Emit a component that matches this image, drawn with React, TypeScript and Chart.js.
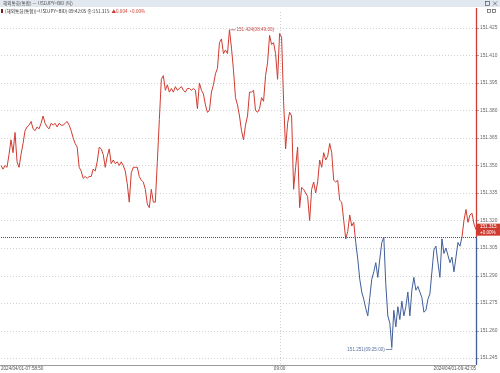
import React, { useEffect, useRef } from "react";
import { Chart, registerables } from "chart.js";

Chart.register(...registerables);

// ---- data ----
const prices: number[] = [
  151.350, 151.348, 151.350, 151.349, 151.356, 151.364, 151.357, 151.368, 151.352, 151.349,
  151.356, 151.362, 151.369, 151.371, 151.372, 151.374, 151.370, 151.369, 151.371, 151.370,
  151.373, 151.377, 151.373, 151.371, 151.370, 151.373, 151.372, 151.373, 151.371, 151.373,
  151.372, 151.372, 151.373, 151.374, 151.372, 151.369, 151.365, 151.362, 151.360, 151.349,
  151.347, 151.343, 151.344, 151.343, 151.344, 151.344, 151.348, 151.347, 151.352, 151.360,
  151.359, 151.356, 151.349, 151.355, 151.359, 151.351, 151.353, 151.351, 151.352, 151.350,
  151.352, 151.350, 151.347, 151.340, 151.330, 151.346, 151.349, 151.349, 151.349, 151.344,
  151.342, 151.341, 151.337, 151.329, 151.327, 151.337, 151.330, 151.330, 151.352, 151.375,
  151.397, 151.399, 151.391, 151.394, 151.390, 151.392, 151.390, 151.393, 151.391, 151.392,
  151.393, 151.391, 151.390, 151.392, 151.392, 151.391, 151.392, 151.391, 151.381, 151.395,
  151.391, 151.389, 151.383, 151.379, 151.380, 151.390, 151.394, 151.400, 151.403, 151.417,
  151.419, 151.411, 151.413, 151.411, 151.424, 151.414, 151.402, 151.387, 151.383, 151.377,
  151.369, 151.364, 151.372, 151.377, 151.390, 151.390, 151.391, 151.380, 151.379, 151.381,
  151.387, 151.385, 151.399, 151.406, 151.421, 151.416, 151.417, 151.411, 151.397, 151.422,
  151.420, 151.385, 151.359, 151.373, 151.379, 151.377, 151.337, 151.349, 151.360, 151.327,
  151.338, 151.337, 151.335, 151.333, 151.320, 151.337, 151.341, 151.335, 151.341, 151.353,
  151.349, 151.357, 151.353, 151.355, 151.362, 151.357, 151.342, 151.341, 151.342, 151.331,
  151.330, 151.320, 151.310, 151.314, 151.323, 151.317, 151.319, 151.308, 151.299, 151.288,
  151.281, 151.277, 151.272, 151.268, 151.278, 151.288, 151.292, 151.297, 151.289, 151.299,
  151.308, 151.311, 151.285, 151.268, 151.264, 151.251, 151.271, 151.262, 151.273, 151.266,
  151.276, 151.268, 151.273, 151.281, 151.268, 151.282, 151.289, 151.282, 151.284, 151.281,
  151.278, 151.270, 151.271, 151.277, 151.280, 151.292, 151.304, 151.306, 151.297, 151.289,
  151.310, 151.302, 151.305, 151.301, 151.297, 151.300, 151.292, 151.300, 151.308, 151.306,
  151.311, 151.320, 151.326, 151.319, 151.323, 151.324, 151.318, 151.315,
];
const tickSeq: number[] = prices.map((_, i) => i);

const xTickIndex: number[] = [0, 139, 237];
const xTickText: string[] = ["2024/04/01-07:58:50", "09:00", "2024/04/01-09:42:05"];

const yTicks: number[] = [
  151.245, 151.26, 151.275, 151.29, 151.305, 151.32, 151.335, 151.35, 151.365, 151.38, 151.395, 151.41, 151.425,
];
const yMin = 151.2412;
const yMax = 151.4337;

const prevClose = 151.311;
const lastPrice = 151.315;
const change = "▲0.004";
const changePct = "+0.00%";
const maxTime = "08:49:00";
const minTime = "09:25:00";
const title = "해외통화(통합) — USDJPY=BID (틱)";
const infoLine = "(해외통화(통합))=USDJPY=BID) 09:42:05 종:151.315";

const RED = "#cf3b30";
const BLUE = "#3f5d98";
const FONT = "'Liberation Sans', Arial, sans-serif";
const KFONT = "'Noto Sans CJK KR', 'Liberation Sans', sans-serif";

const decor = {
  id: "decor",
  beforeDraw(chart: any) {
    const { ctx, width } = chart;
    ctx.save();
    ctx.fillStyle = "#ffffff";
    ctx.fillRect(0, 0, width, chart.height);
    // title bar
    ctx.fillStyle = "#e2e8ef";
    ctx.fillRect(0, 0, width, 7);
    ctx.fillStyle = "#4a4a4a";
    ctx.font = `4.6px ${KFONT}`;
    ctx.textBaseline = "middle";
    ctx.textAlign = "left";
    ctx.fillText(title, 3, 3.6);
    // window icons
    ctx.strokeStyle = "#555";
    ctx.lineWidth = 0.7;
    ctx.strokeRect(485.5, 1.5, 4, 4);
    ctx.beginPath();
    ctx.moveTo(493, 1.5); ctx.lineTo(497, 5.5);
    ctx.moveTo(497, 1.5); ctx.lineTo(493, 5.5);
    ctx.stroke();
    ctx.strokeRect(487.5, 9.5, 3, 3);
    ctx.strokeRect(492.5, 9.5, 3, 3);
    // info line
    ctx.fillStyle = "#7a1f1a";
    ctx.fillRect(1, 9, 2, 4);
    ctx.fillStyle = "#333";
    ctx.font = `4.6px ${KFONT}`;
    ctx.fillText(infoLine, 5, 11);
    const w = ctx.measureText(infoLine).width;
    ctx.fillStyle = RED;
    ctx.fillText(`${change}  ${changePct}`, 5 + w + 2, 11);
    ctx.restore();
  },
  beforeDatasetsDraw(chart: any) {
    const { ctx, chartArea: ca, scales } = chart;
    const ys = scales.y;
    const xs = scales.x;
    ctx.save();
    ctx.lineWidth = 1;
    ctx.strokeStyle = "#d2d2d2";
    ctx.setLineDash([1, 2]);
    for (const t of yTicks) {
      const y = Math.round(ys.getPixelForValue(t)) + 0.5;
      ctx.beginPath();
      ctx.moveTo(ca.left, y);
      ctx.lineTo(ca.right, y);
      ctx.stroke();
    }
    const vx = Math.round(xs.getPixelForValue(xTickIndex[1])) + 0.5;
    ctx.beginPath();
    ctx.moveTo(vx, ca.top);
    ctx.lineTo(vx, ca.bottom);
    ctx.stroke();
    // bottom axis line
    ctx.setLineDash([]);
    ctx.strokeStyle = "#9a9a9a";
    ctx.beginPath();
    ctx.moveTo(0, Math.round(ca.bottom) + 0.5);
    ctx.lineTo(ca.right, Math.round(ca.bottom) + 0.5);
    ctx.stroke();
    // baseline (prev close)
    const by = Math.round(ys.getPixelForValue(prevClose)) + 0.5;
    ctx.strokeStyle = "#505050";
    ctx.setLineDash([1, 1]);
    ctx.beginPath();
    ctx.moveTo(ca.left, by);
    ctx.lineTo(ca.right, by);
    ctx.stroke();
    ctx.restore();
  },
  afterDatasetsDraw(chart: any) {
    const { ctx, chartArea: ca, scales } = chart;
    const ys = scales.y;
    const xs = scales.x;
    ctx.save();
    // right axis line, colored by baseline
    const by = ys.getPixelForValue(prevClose);
    const ax = Math.round(ca.right) + 0.5;
    ctx.lineWidth = 1.3;
    ctx.strokeStyle = RED;
    ctx.beginPath();
    ctx.moveTo(ax, 8);
    ctx.lineTo(ax, by);
    ctx.stroke();
    ctx.strokeStyle = BLUE;
    ctx.beginPath();
    ctx.moveTo(ax, by);
    ctx.lineTo(ax, ca.bottom);
    ctx.stroke();
    // tick marks
    ctx.lineWidth = 0.8;
    ctx.strokeStyle = "#888";
    for (const t of yTicks) {
      const y = Math.round(ys.getPixelForValue(t)) + 0.5;
      ctx.beginPath();
      ctx.moveTo(ca.right + 1, y);
      ctx.lineTo(ca.right + 3, y);
      ctx.stroke();
    }
    // max / min annotations
    let maxI = 0, minI = 0;
    prices.forEach((v, i) => {
      if (v > prices[maxI]) maxI = i;
      if (v < prices[minI]) minI = i;
    });
    ctx.font = `4.6px ${FONT}`;
    ctx.textBaseline = "middle";
    ctx.lineWidth = 0.8;
    const mx = xs.getPixelForValue(maxI);
    const my = ys.getPixelForValue(prices[maxI]);
    ctx.strokeStyle = "#c0504d";
    ctx.fillStyle = "#c0504d";
    ctx.beginPath();
    ctx.moveTo(mx + 1, my);
    ctx.lineTo(mx + 6, my);
    ctx.stroke();
    ctx.textAlign = "left";
    ctx.fillText(`${prices[maxI].toFixed(3)}(${maxTime})`, mx + 7, my);
    const nx = xs.getPixelForValue(minI);
    const ny = ys.getPixelForValue(prices[minI]) + 2.5;
    ctx.strokeStyle = "#5a73a3";
    ctx.fillStyle = "#5a73a3";
    ctx.beginPath();
    ctx.moveTo(nx - 6, ny);
    ctx.lineTo(nx, ny);
    ctx.lineTo(nx, ny - 2.5);
    ctx.stroke();
    ctx.textAlign = "right";
    ctx.fillText(`${prices[minI].toFixed(3)}(${minTime})`, nx - 7, ny);
    // last price box
    const ly = ys.getPixelForValue(lastPrice);
    ctx.fillStyle = RED;
    ctx.fillRect(ca.right + 1, ly - 6, chart.width - ca.right - 1, 12);
    ctx.fillStyle = "#ffffff";
    ctx.textAlign = "left";
    ctx.font = `4.6px ${FONT}`;
    ctx.fillText(lastPrice.toFixed(3), ca.right + 4, ly - 2.7);
    ctx.fillText(changePct, ca.right + 4, ly + 2.9);
    ctx.restore();
  },
};

export default function App() {
  const ref = useRef<HTMLCanvasElement | null>(null);
  useEffect(() => {
    const canvas = ref.current;
    if (!canvas) return;
    const chart = new Chart(canvas, {
      type: "line",
      data: {
        labels: tickSeq,
        datasets: [
          {
            data: prices,
            borderWidth: 1,
            pointRadius: 0,
            tension: 0,
            fill: false,
            borderColor: (c: any) => {
              const ch = c.chart;
              const ca = ch.chartArea;
              if (!ca) return RED;
              const y = ch.scales.y.getPixelForValue(prevClose);
              const g = ch.ctx.createLinearGradient(0, ca.top, 0, ca.bottom);
              const s = Math.min(1, Math.max(0, (y - ca.top) / (ca.bottom - ca.top)));
              g.addColorStop(0, RED);
              g.addColorStop(s, RED);
              g.addColorStop(s, BLUE);
              g.addColorStop(1, BLUE);
              return g;
            },
          },
        ],
      },
      options: {
        animation: false,
        responsive: false,
        maintainAspectRatio: false,
        layout: { padding: { top: 12, left: 0, right: 0, bottom: 0 } },
        plugins: { legend: { display: false }, tooltip: { enabled: false } },
        scales: {
          x: {
            type: "category",
            offset: false,
            grid: { display: false, drawTicks: false },
            border: { display: false },
            afterBuildTicks: (s: any) => {
              s.ticks = xTickIndex.map((v) => ({ value: v }));
            },
            afterFit: (s: any) => {
              s.height = 8;
            },
            ticks: {
              autoSkip: false,
              maxRotation: 0,
              minRotation: 0,
              align: "inner",
              padding: 1,
              color: "#555",
              font: { size: 4.6, family: FONT },
              callback: (v: any) => {
                const k = xTickIndex.indexOf(Number(v));
                return k >= 0 ? xTickText[k] : "";
              },
            },
          },
          y: {
            position: "right",
            min: yMin,
            max: yMax,
            grid: { display: false, drawTicks: false },
            border: { display: false },
            afterBuildTicks: (s: any) => {
              s.ticks = yTicks.map((v) => ({ value: v }));
            },
            afterFit: (s: any) => {
              s.width = 24;
            },
            ticks: {
              padding: 4,
              color: "#666",
              font: { size: 4.8, family: FONT },
              callback: (v: any) => Number(v).toFixed(3),
            },
          },
        },
      } as any,
      plugins: [decor],
    });
    return () => chart.destroy();
  }, []);
  return (
    <div style={{ position: "fixed", left: 0, top: 0, width: 500, height: 373, background: "#fff" }}>
      <canvas ref={ref} width={500} height={373} style={{ display: "block", width: 500, height: 373 }} />
    </div>
  );
}
